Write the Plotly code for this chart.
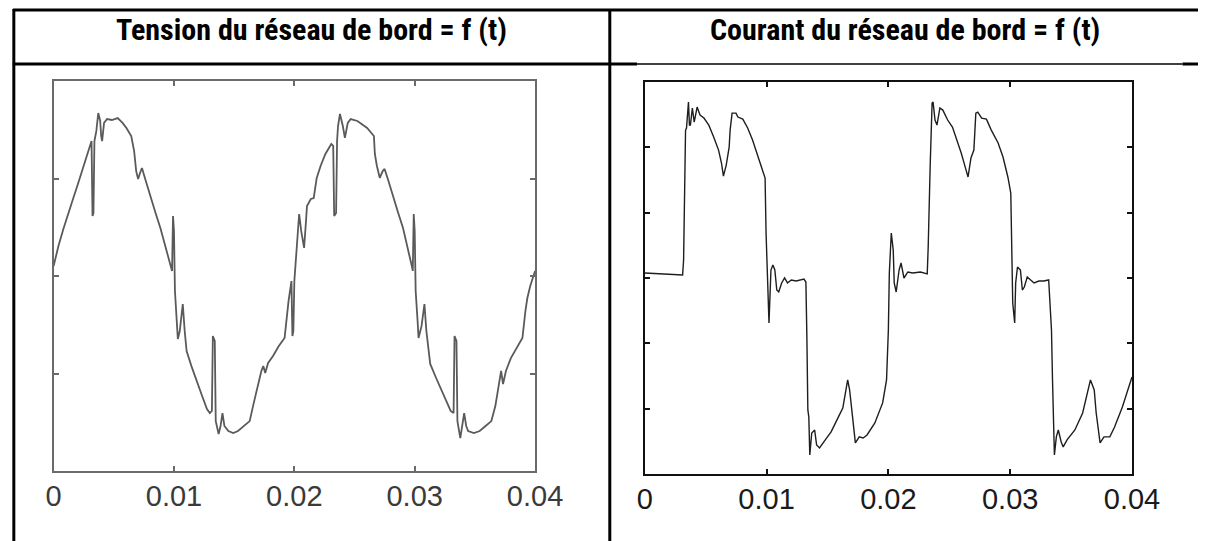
import plotly.graph_objects as go

# ---------------- data ----------------
# Left panel: Tension du réseau de bord (arbitrary units), time in ms
tension_t_ms = [0.00, 0.40, 0.81, 1.21, 1.61, 2.02, 2.42, 2.82, 3.15, 3.23, 3.31, 3.39, 3.55, 3.71, 3.87, 3.95,
                4.03, 4.19, 4.44, 4.84, 5.32, 5.73, 6.05, 6.45, 6.69, 6.86, 7.02, 7.18, 7.34, 7.66, 8.07, 8.47,
                8.87, 9.27, 9.68, 9.84, 9.92, 10.00, 10.08, 10.24, 10.32, 10.48, 10.73, 10.89, 11.05, 11.45,
                11.86, 12.34, 12.74, 12.98, 13.15, 13.23, 13.39, 13.47, 13.71, 13.87, 14.03, 14.19, 14.52,
                14.92, 15.32, 15.81, 16.29, 16.61, 16.94, 17.26, 17.42, 17.58, 17.82, 18.23, 18.71, 19.19,
                19.52, 19.68, 19.76, 19.84, 19.92, 20.00, 20.16, 20.32, 20.40, 20.57, 20.81, 20.97, 21.05,
                21.37, 21.61, 21.86, 22.18, 22.58, 23.07, 23.23, 23.31, 23.47, 23.55, 23.63, 23.79, 24.03,
                24.20, 24.44, 24.68, 25.24, 25.73, 26.05, 26.61, 26.69, 26.86, 27.10, 27.34, 27.50, 27.82,
                28.23, 28.63, 29.03, 29.44, 29.76, 29.84, 29.92, 30.00, 30.08, 30.24, 30.32, 30.57, 30.81,
                30.97, 31.13, 31.29, 31.78, 32.26, 32.66, 32.99, 33.23, 33.31, 33.47, 33.55, 33.79, 33.95,
                34.11, 34.28, 34.44, 34.92, 35.40, 35.89, 36.37, 36.70, 36.94, 37.18, 37.34, 37.58, 37.99,
                38.47, 38.95, 39.20, 39.36, 39.60, 40.00]
tension_v = [5.1, 15.4, 24.1, 32.3, 39.5, 47.2, 54.9, 63.1, 69.2, 30.8, 32.3, 69.2, 74.4, 83.6, 79.5, 71.8,
             69.2, 78.5, 80.5, 80.0, 81.0, 78.5, 75.9, 71.8, 64.1, 53.8, 49.7, 52.8, 55.4, 48.7, 40.0, 32.3,
             24.6, 15.4, 5.1, 2.6, 30.8, 23.1, -7.7, -23.1, -32.3, -28.2, -14.4, -28.2, -38.5, -46.2,
             -53.8, -61.5, -68.2, -70.3, -69.2, -30.8, -33.3, -74.4, -81.0, -76.9, -70.3, -76.9, -79.5,
             -80.5, -79.5, -76.9, -74.4, -65.6, -56.4, -48.7, -46.2, -49.7, -44.6, -41.0, -35.9, -31.8,
             -12.8, -5.1, -2.6, -30.8, -28.2, -2.6, 10.3, 23.1, 31.8, 23.1, 14.4, 28.2, 35.9,
             39.5, 40.0, 50.3, 56.4, 62.6, 67.7, 66.7, 30.8, 32.3, 69.2, 76.9, 83.1, 76.9,
             70.8, 78.5, 80.5, 79.5, 77.4, 75.9, 71.8, 62.6, 56.4, 50.3, 53.8, 54.9, 48.7,
             40.0, 32.3, 24.6, 14.4, 5.1, 2.6, 31.8, 23.1, -7.7, -23.1, -31.8, -25.6, -14.4,
             -28.2, -36.9, -45.1, -52.3, -59.0, -64.1, -69.2, -70.3, -30.8, -33.3, -74.4, -83.1, -76.9,
             -70.3, -76.9, -79.5, -80.5, -79.5, -76.9, -74.4, -66.7, -56.4, -48.7, -55.4, -48.7, -42.1,
             -36.9, -31.8, -17.9, -11.3, -5.1, 2.6]

# Right panel: Courant du réseau de bord (arbitrary units), time in ms
courant_t_ms = [0.00, 1.51, 3.11, 3.19, 3.27, 3.35, 3.43, 3.59, 3.67, 3.75, 3.91, 4.06, 4.30, 4.54, 4.86, 5.26,
                5.66, 6.06, 6.30, 6.46, 6.69, 6.93, 7.01, 7.17, 7.49, 7.65, 8.05, 8.45, 8.85, 9.32, 9.72,
                9.88, 9.96, 10.12, 10.20, 10.36, 10.52, 10.68, 10.84, 11.00, 11.24, 11.48, 11.72, 12.03,
                12.43, 13.07, 13.23, 13.31, 13.39, 13.47, 13.55, 13.71, 13.95, 14.11, 14.35, 14.82, 15.30,
                15.78, 16.26, 16.66, 16.82, 17.06, 17.29, 17.61, 17.93, 18.25, 18.89, 19.53, 19.85, 20.00,
                20.08, 20.24, 20.40, 20.48, 20.64, 20.88, 21.04, 21.28, 21.60, 22.00, 22.63, 23.19, 23.27,
                23.43, 23.59, 23.67, 23.83, 23.99, 24.23, 24.47, 24.87, 25.26, 25.58, 25.98, 26.38, 26.54,
                26.78, 27.02, 27.18, 27.34, 27.66, 28.05, 28.45, 29.01, 29.41, 29.81, 30.05, 30.13, 30.21,
                30.37, 30.45, 30.60, 30.84, 31.00, 31.16, 31.40, 31.64, 31.96, 32.36, 32.76, 33.16, 33.24,
                33.39, 33.47, 33.55, 33.63, 33.79, 33.95, 34.19, 34.35, 34.67, 35.31, 35.95, 36.59, 36.90,
                37.06, 37.38, 37.70, 38.18, 38.57, 39.21, 40.00]
courant_v = [3.8, 3.1, 2.3, 13.8, 57.4, 113.2, 114.8, 134.6, 117.0, 117.0, 130.1, 119.3, 130.8, 124.7, 122.4, 117.0,
             107.9, 97.9, 88.0, 78.0, 86.4, 100.2, 113.2, 126.2, 126.2, 123.2, 121.6, 114.8, 105.6, 92.6, 81.1,
             76.5, 34.4, -16.8, -34.4, 6.1, 9.9, 6.1, -9.2, -10.7, -3.8, 0.0, -3.8, -1.5,
             -2.3, -0.8, -3.1, -45.1, -101.0, -106.3, -135.4, -118.6, -116.3, -127.8, -130.1, -123.9, -117.8,
             -108.6, -99.5, -78.0, -85.7, -106.3, -126.2, -121.6, -122.4, -120.1, -110.9, -95.6, -78.0, -39.8,
             3.8, 34.4, 21.4, -3.8, -10.7, 6.1, 11.5, 0.0, 4.6, 3.8, 4.6, 3.1, 23.7,
             84.9, 133.9, 134.6, 120.9, 117.0, 130.1, 128.5, 120.9, 115.5, 107.1, 95.6, 82.6, 77.3,
             91.8, 97.9, 126.2, 127.0, 122.4, 121.6, 113.2, 103.3, 92.6, 77.3, 65.0, 8.4, -19.1,
             -34.4, -3.8, 8.4, 6.1, -9.2, -6.9, 0.8, -1.5, -3.8, -2.3, -2.3, -1.5, -14.5,
             -39.8, -75.7, -116.3, -135.4, -121.6, -116.3, -125.5, -129.3, -123.9, -116.3, -103.3, -78.0, -85.7,
             -103.3, -126.2, -121.6, -121.6, -114.0, -98.7, -75.7]

titles = ["Tension du réseau de bord = f (t)", "Courant du réseau de bord = f (t)"]
x_ticks = [0, 0.01, 0.02, 0.03, 0.04]
x_tick_labels = ["0", "0.01", "0.02", "0.03", "0.04"]
tension_yticks = [-100, -50, 0, 50, 100]
courant_yticks = [-150, -100, -50, 0, 50, 100, 150]

# ---------------- figure ----------------
W, H = 1226, 541


def px(x):
    return x / W


def py(y):
    return 1 - y / H


fig = go.Figure()
fig.add_trace(go.Scatter(x=[t / 1000 for t in tension_t_ms], y=tension_v, mode="lines",
                         line=dict(color="#5a5a5a", width=1.8), xaxis="x", yaxis="y",
                         showlegend=False, hoverinfo="skip"))
fig.add_trace(go.Scatter(x=[t / 1000 for t in courant_t_ms], y=courant_v, mode="lines",
                         line=dict(color="#1e1e1e", width=1.4), xaxis="x2", yaxis="y2",
                         showlegend=False, hoverinfo="skip"))

common_x = dict(range=[0, 0.04], tickvals=x_ticks, ticktext=x_tick_labels, ticks="inside",
                mirror="ticks", showline=True, showgrid=False, zeroline=False,
                ticklabelstandoff=-2, fixedrange=True)
common_y = dict(ticks="inside", mirror="ticks", showline=True, showgrid=False, zeroline=False,
                showticklabels=False, fixedrange=True)

fig.update_layout(
    width=W, height=H, margin=dict(l=0, r=0, t=0, b=0),
    paper_bgcolor="white", plot_bgcolor="white",
    xaxis=dict(domain=[px(47), px(543)], anchor="y", linecolor="#6a6a6a", linewidth=2,
               tickcolor="#6a6a6a", ticklen=5, tickwidth=2,
               tickfont=dict(family="Liberation Sans, Arial, sans-serif", size=29, color="#3a3a3a"),
               **common_x),
    yaxis=dict(domain=[py(471), py(81)], anchor="x", range=[-100, 100], tickvals=tension_yticks,
               linecolor="#6a6a6a", linewidth=2, tickcolor="#6a6a6a", ticklen=5, tickwidth=2,
               **common_y),
    xaxis2=dict(domain=[px(656), px(1158)], anchor="y2", linecolor="#111111", linewidth=1.6,
                tickcolor="#111111", ticklen=5, tickwidth=1.5,
                tickfont=dict(family="Liberation Sans, Arial, sans-serif", size=29, color="#1a1a1a"),
                **common_x),
    yaxis2=dict(domain=[py(474), py(82)], anchor="x2", range=[-150, 150], tickvals=courant_yticks,
                linecolor="#111111", linewidth=1.6, tickcolor="#111111", ticklen=5, tickwidth=1.5,
                **common_y),
)

# table borders
border = dict(color="black", width=3)
shapes = [
    dict(type="line", xref="paper", yref="paper", x0=px(5), x1=1, y0=py(10), y1=py(10), line=border),
    dict(type="line", xref="paper", yref="paper", x0=px(6), x1=px(6), y0=py(9), y1=0, line=border),
    dict(type="line", xref="paper", yref="paper", x0=px(620), x1=px(620), y0=py(9), y1=0, line=border),
    dict(type="line", xref="paper", yref="paper", x0=px(5), x1=px(648), y0=py(64), y1=py(64), line=border),
    dict(type="line", xref="paper", yref="paper", x0=px(648), x1=px(1210), y0=py(64), y1=py(64),
         line=dict(color="black", width=1.5)),
    dict(type="line", xref="paper", yref="paper", x0=px(1210), x1=1, y0=py(64), y1=py(64), line=border),
]
fig.update_layout(shapes=shapes)

title_font = dict(family="Liberation Sans Narrow, Arial Narrow, Roboto Condensed, Liberation Sans, sans-serif",
                  size=30, color="black")
fig.add_annotation(text="<b>%s</b>" % titles[0], x=px(313), y=py(29), xref="paper", yref="paper",
                   showarrow=False, xanchor="center", yanchor="middle", font=title_font)
fig.add_annotation(text="<b>%s</b>" % titles[1], x=px(924), y=py(29), xref="paper", yref="paper",
                   showarrow=False, xanchor="center", yanchor="middle", font=title_font)

fig.write_html(
    "out.html",
    config={"displayModeBar": False},
    post_script="document.body.style.margin='0';document.body.style.overflow='hidden';",
)
